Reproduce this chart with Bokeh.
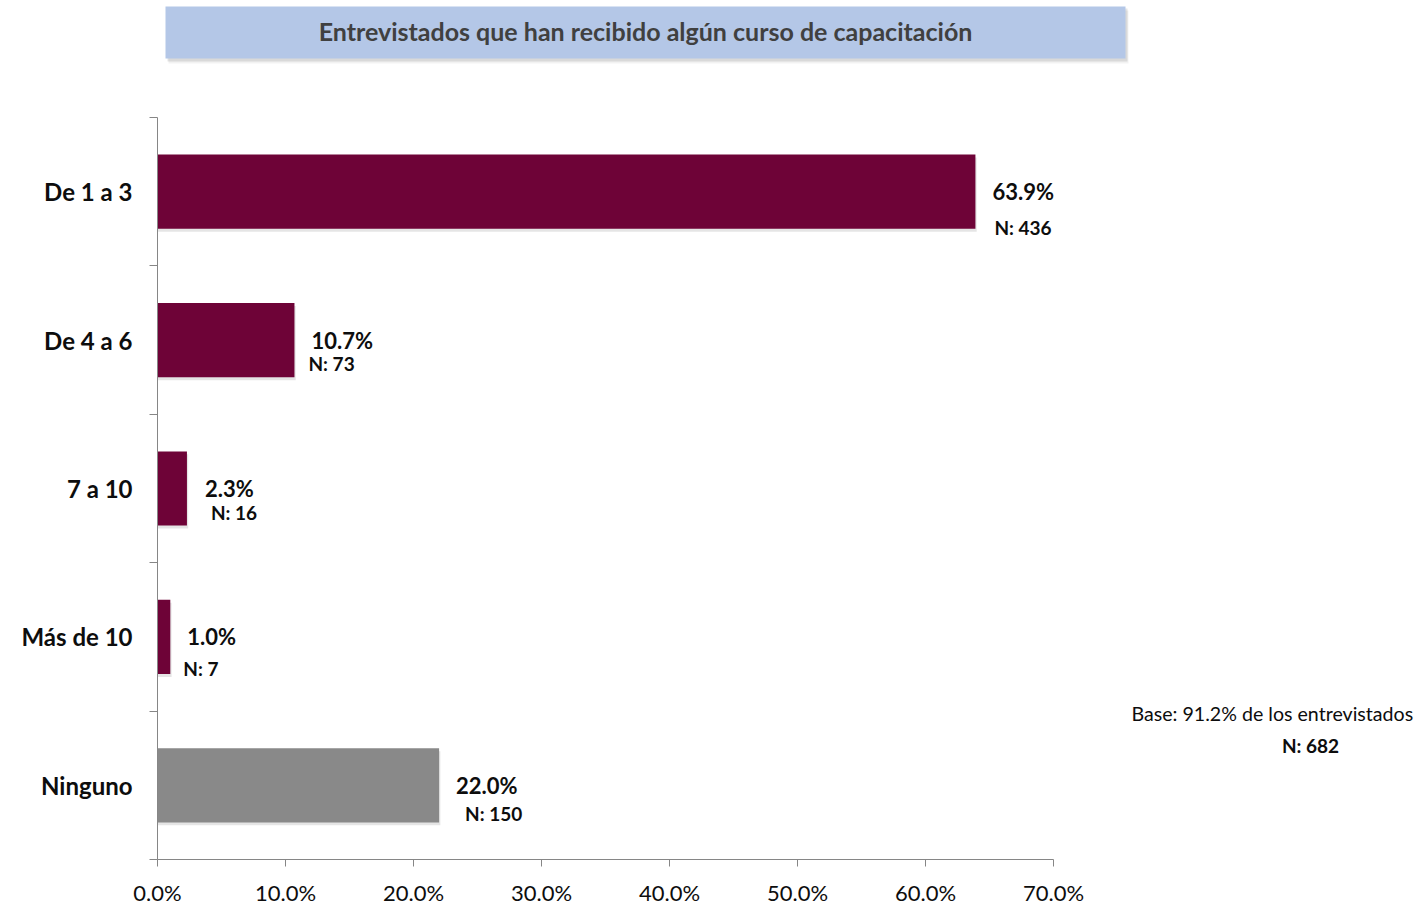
from bokeh.plotting import figure
from bokeh.models import (ColumnDataSource, FixedTicker, PrintfTickFormatter,
                          Range1d, Label)
from bokeh.layouts import column
from bokeh.embed import file_html
from bokeh.resources import INLINE
from bokeh.core.properties import value

# ---------------- data ----------------
categories = ["De 1 a 3", "De 4 a 6", "7 a 10", "Más de 10", "Ninguno"]
percent = [63.9, 10.7, 2.3, 1.0, 22.0]
counts = [436, 73, 16, 7, 150]
x_ticks = [0, 10, 20, 30, 40, 50, 60, 70]
title_text = "Entrevistados que han recibido algún curso de capacitación"
base_text = "Base: 91.2% de los entrevistados"
base_n = "N: 682"

# ---------------- styles ----------------
bar_colors = ["#6E0337", "#6E0337", "#6E0337", "#6E0337", "#898989"]
pct_xoff = [17, 17, 18, 17, 17]
n_xoff = [19, 14, 24, 13, 26]
n_yoff = [36, 23, 24, 32, 28]
FONT = "Lato"
W = 1419
LEFT = 157
TOP_H = 66

# ---------------- title figure (data coords == page pixels) ----------------
t = figure(width=W, height=TOP_H, x_range=Range1d(LEFT, W), y_range=Range1d(TOP_H, 0),
           output_backend="svg", toolbar_location=None, min_border=0,
           min_border_left=LEFT, min_border_right=0)
t.axis.visible = False
t.grid.visible = False
t.outline_line_color = None
t.quad(left=[168], right=[1128], top=[10], bottom=[63], fill_color="#000000",
       fill_alpha=0.05, line_color=None)
t.quad(left=[167], right=[1127], top=[8], bottom=[61], fill_color="#000000",
       fill_alpha=0.10, line_color=None)
t.quad(left=[165], right=[1125], top=[6], bottom=[58], fill_color="#B4C7E7",
       line_color=None)
t.text(x=[645], y=[30], text=[title_text], text_font=value(FONT),
       text_font_style="bold", text_font_size="25px", text_color="#404040",
       text_align="center", text_baseline="middle")

# ---------------- main figure ----------------
n = len(categories)
centers = [i + 0.5 for i in range(n)]
px_per_unit = 12.8
frame_w = W - LEFT
band_px = 748 / n
p = figure(width=W, height=908 - TOP_H, output_backend="svg", toolbar_location=None,
           x_range=Range1d(0, frame_w / px_per_unit), y_range=Range1d(n, 0),
           min_border_left=LEFT, min_border_right=0, min_border_top=117 - TOP_H,
           min_border_bottom=908 - TOP_H - (117 - TOP_H) - 748)
p.grid.visible = False
p.outline_line_color = None
p.background_fill_color = "white"

src = ColumnDataSource(dict(
    y=centers, right=percent, color=bar_colors,
    pct=[f"{v:.1f}%" for v in percent],
    ntxt=[f"N: {c}" for c in counts],
    pxo=pct_xoff, nxo=n_xoff, nyo=n_yoff,
))

# subtle shadow
p.hbar(y=[c + 0.02 for c in centers], left=0, right=[v + 0.1 for v in percent],
       height=0.5, fill_color="#000000", fill_alpha=0.10, line_color=None)
p.hbar(y="y", left=0, right="right", height=0.5, fill_color="color",
       line_color=None, source=src)

p.text(x="right", y="y", text="pct", x_offset="pxo", y_offset=0, source=src,
       text_font=value(FONT), text_font_style="bold", text_font_size="22px",
       text_color="#0d0d0d", text_align="left", text_baseline="middle")
p.text(x="right", y="y", text="ntxt", x_offset="nxo", y_offset="nyo", source=src,
       text_font=value(FONT), text_font_style="bold", text_font_size="19px",
       text_color="#0d0d0d", text_align="left", text_baseline="middle")

# x axis
xa = p.xaxis[0]
xa.ticker = FixedTicker(ticks=x_ticks)
xa.formatter = PrintfTickFormatter(format="%.1f%%")
xa.bounds = (0, 70)
xa.axis_line_color = "#868686"
xa.major_tick_line_color = "#868686"
xa.major_tick_in = 0
xa.major_tick_out = 7
xa.minor_tick_line_color = None
xa.major_label_text_font = FONT
xa.major_label_text_font_size = "22px"
xa.major_label_text_color = "#0d0d0d"
xa.major_label_standoff = 12

# y axis
ya = p.yaxis[0]
ya.ticker = FixedTicker(ticks=centers, minor_ticks=list(range(n + 1)))
ya.major_label_overrides = {c: lab for c, lab in zip(centers, categories)}
ya.axis_line_color = "#868686"
ya.major_tick_in = 0
ya.major_tick_out = 0
ya.minor_tick_in = 0
ya.minor_tick_out = 8
ya.minor_tick_line_color = "#868686"
ya.major_label_text_font = FONT
ya.major_label_text_font_style = "bold"
ya.major_label_text_font_size = "24px"
ya.major_label_text_color = "#0d0d0d"
ya.major_label_standoff = 17

# base note
p.add_layout(Label(x=(1131 - LEFT) / px_per_unit, y=(718 - 117) / band_px,
                   text=base_text, text_font=FONT, text_font_size="19.6px",
                   text_color="#0d0d0d", text_baseline="middle", text_align="left"))
p.add_layout(Label(x=(1310 - LEFT) / px_per_unit, y=(750 - 117) / band_px,
                   text=base_n, text_font=FONT, text_font_style="bold",
                   text_font_size="19px", text_color="#0d0d0d",
                   text_baseline="middle", text_align="center"))

layout = column(t, p)
open("out.html", "w").write(file_html(layout, INLINE))
